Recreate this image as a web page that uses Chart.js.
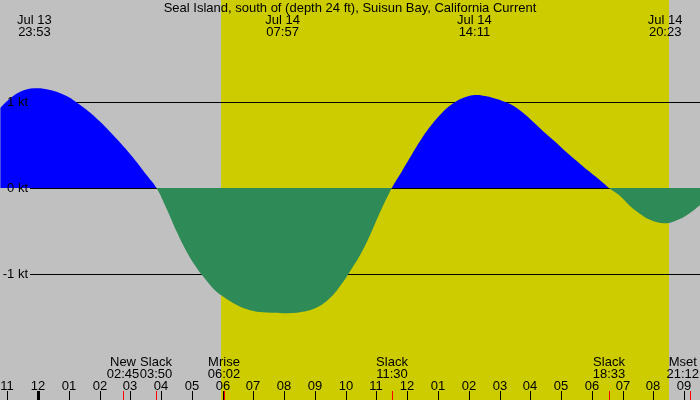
<!DOCTYPE html>
<html lang="en">
<head>
    <meta charset="UTF-8" />
    <title>Seal Island current</title>
    <style>
        body {
            margin: 0;
            background: #c0c0c0;
        }

        #chart {
            display: block;
        }
    </style>
    <script src="https://cdn.jsdelivr.net/npm/chart.js"></script>
</head>

<body>
    <canvas id="chart" width="700" height="400"></canvas>

    <script>
        const title = "Seal Island, south of (depth 24 ft), Suisun Bay, California Current";

        // hours after Jul 14 00:00 (negative = Jul 13), current in knots
        const hours = [-1.23, -0.91, -0.58, -0.12, 0.39, 0.93, 1.2, 1.58, 2.02, 2.56, 3.1, 3.53, 3.85,
            4.18, 4.51, 4.83, 5.16, 5.37, 5.7, 5.97, 6.46, 6.89, 7.32, 7.95, 8.52, 9.06, 9.49, 9.82,
            10.14, 10.47, 10.79, 11.12, 11.5, 11.82, 12.15, 12.47, 12.79, 13.12, 13.44, 13.77, 14.18,
            14.53, 14.85, 15.18, 15.5, 15.83, 16.15, 16.48, 16.8, 17.13, 17.45, 17.78, 18.1, 18.43,
            18.55, 18.91, 19.24, 19.56, 19.89, 20.38, 20.86, 21.19, 21.52];
        const knots = [0.93, 1.04, 1.12, 1.16, 1.14, 1.07, 1.01, 0.91, 0.77, 0.57, 0.35, 0.15, 0,
            -0.24, -0.51, -0.74, -0.93, -1.03, -1.17, -1.25, -1.36, -1.42, -1.445, -1.455, -1.445, -1.39, -1.28, -1.14,
            -0.97, -0.78, -0.55, -0.28, 0, 0.19, 0.39, 0.575, 0.735, 0.87, 0.97, 1.04, 1.08,
            1.07, 1.04, 1.0, 0.945, 0.855, 0.75, 0.64, 0.54, 0.43, 0.33, 0.23, 0.14, 0.04,
            0, -0.09, -0.21, -0.3, -0.37, -0.41, -0.36, -0.29, -0.2];

        const kLevels = [1, 0, -1];
        const kLabels = ["1 kt", "0 kt", "-1 kt"];

        const tickHours = [-1, 0, 1, 2, 3, 4, 5, 6, 7, 8, 9, 10, 11, 12, 13, 14, 15, 16, 17, 18, 19, 20, 21];
        const tickLabels = ["11", "12", "01", "02", "03", "04", "05", "06", "07", "08", "09", "10",
            "11", "12", "01", "02", "03", "04", "05", "06", "07", "08", "09"];

        const peakDays = ["Jul 13", "Jul 14", "Jul 14", "Jul 14"];
        const peakTimes = ["23:53", "07:57", "14:11", "20:23"];

        const eventNames = ["New", "Slack", "Mrise", "Slack", "Slack", "Mset"];
        const eventTimes = ["02:45", "03:50", "06:02", "11:30", "18:33", "21:12"];

        const sunrise = "05:57";
        const sunset = "20:31";

        function toHours(t, day) {
            const [h, m] = t.split(":").map(Number);
            return (day === "Jul 13" ? -24 : 0) + h + m / 60;
        }

        const FONT = '13px "Liberation Sans", Arial, sans-serif';

        const tidePlugin = {
            id: "tide",
            beforeDraw(chart) {
                const ctx = chart.ctx;
                const x = chart.scales.x;
                const y = chart.scales.y;
                ctx.save();
                ctx.fillStyle = "#c0c0c0";
                ctx.fillRect(0, 0, chart.width, chart.height);

                const x1 = Math.round(x.getPixelForValue(toHours(sunrise)));
                const x2 = Math.round(x.getPixelForValue(toHours(sunset)));
                ctx.fillStyle = "#cccc00";
                ctx.fillRect(x1, 0, x2 - x1, chart.height);

                ctx.fillStyle = "#000";
                kLevels.forEach(v => {
                    const py = Math.round(y.getPixelForValue(v));
                    ctx.fillRect(30, py, chart.width - 30, 1);
                });
                ctx.restore();
            },
            afterDraw(chart) {
                const ctx = chart.ctx;
                const x = chart.scales.x;
                const y = chart.scales.y;
                const W = chart.width;
                const H = chart.height;
                ctx.save();
                ctx.font = FONT;
                ctx.fillStyle = "#000";
                ctx.textBaseline = "middle";

                ctx.textAlign = "center";
                ctx.fillText(title, W / 2, 8);

                ctx.textAlign = "right";
                kLevels.forEach((v, i) => {
                    ctx.fillText(kLabels[i], 28, Math.round(y.getPixelForValue(v)));
                });

                ctx.textAlign = "center";
                peakTimes.forEach((t, i) => {
                    const px = x.getPixelForValue(toHours(t, peakDays[i]));
                    ctx.fillText(peakDays[i], px, 20);
                    ctx.fillText(t, px, 32);
                });

                // hour ticks and labels
                tickHours.forEach((h, i) => {
                    const px = Math.round(x.getPixelForValue(h));
                    ctx.fillStyle = "#000";
                    if (h === 0) {
                        ctx.fillRect(px - 1, 391, 3, H - 391);
                    } else {
                        ctx.fillRect(px, 391, 1, H - 391);
                    }
                    ctx.fillText(tickLabels[i], px, 386);
                });

                // events (moon, slack)
                eventTimes.forEach((t, i) => {
                    const px = Math.round(x.getPixelForValue(toHours(t)));
                    ctx.fillStyle = "red";
                    ctx.fillRect(px, 391, 1, H - 391);
                    ctx.fillStyle = "#000";
                    const w = Math.max(ctx.measureText(eventNames[i]).width, ctx.measureText(t).width);
                    const cx = Math.min(px, W - 1 - w / 2);
                    ctx.fillText(eventNames[i], cx, 362);
                    ctx.fillText(t, cx, 374);
                });
                ctx.restore();
            }
        };

        const xMin = -1.235;
        const xMax = 21.515;

        new Chart(document.getElementById("chart"), {
            type: "line",
            data: {
                datasets: [{
                    data: hours.map((h, i) => ({ x: h, y: knots[i] })),
                    borderWidth: 0,
                    borderColor: "rgba(0,0,0,0)",
                    pointRadius: 0,
                    tension: 0.4,
                    fill: { target: "origin", above: "#0000ff", below: "#2e8b57" }
                }]
            },
            options: {
                responsive: false,
                animation: false,
                devicePixelRatio: 1,
                layout: { padding: 0 },
                plugins: {
                    legend: { display: false },
                    tooltip: { enabled: false }
                },
                scales: {
                    x: { type: "linear", min: xMin, max: xMax, display: false },
                    y: { min: -2.465, max: 2.186, display: false }
                }
            },
            plugins: [tidePlugin]
        });
    </script>
</body>
</html>
